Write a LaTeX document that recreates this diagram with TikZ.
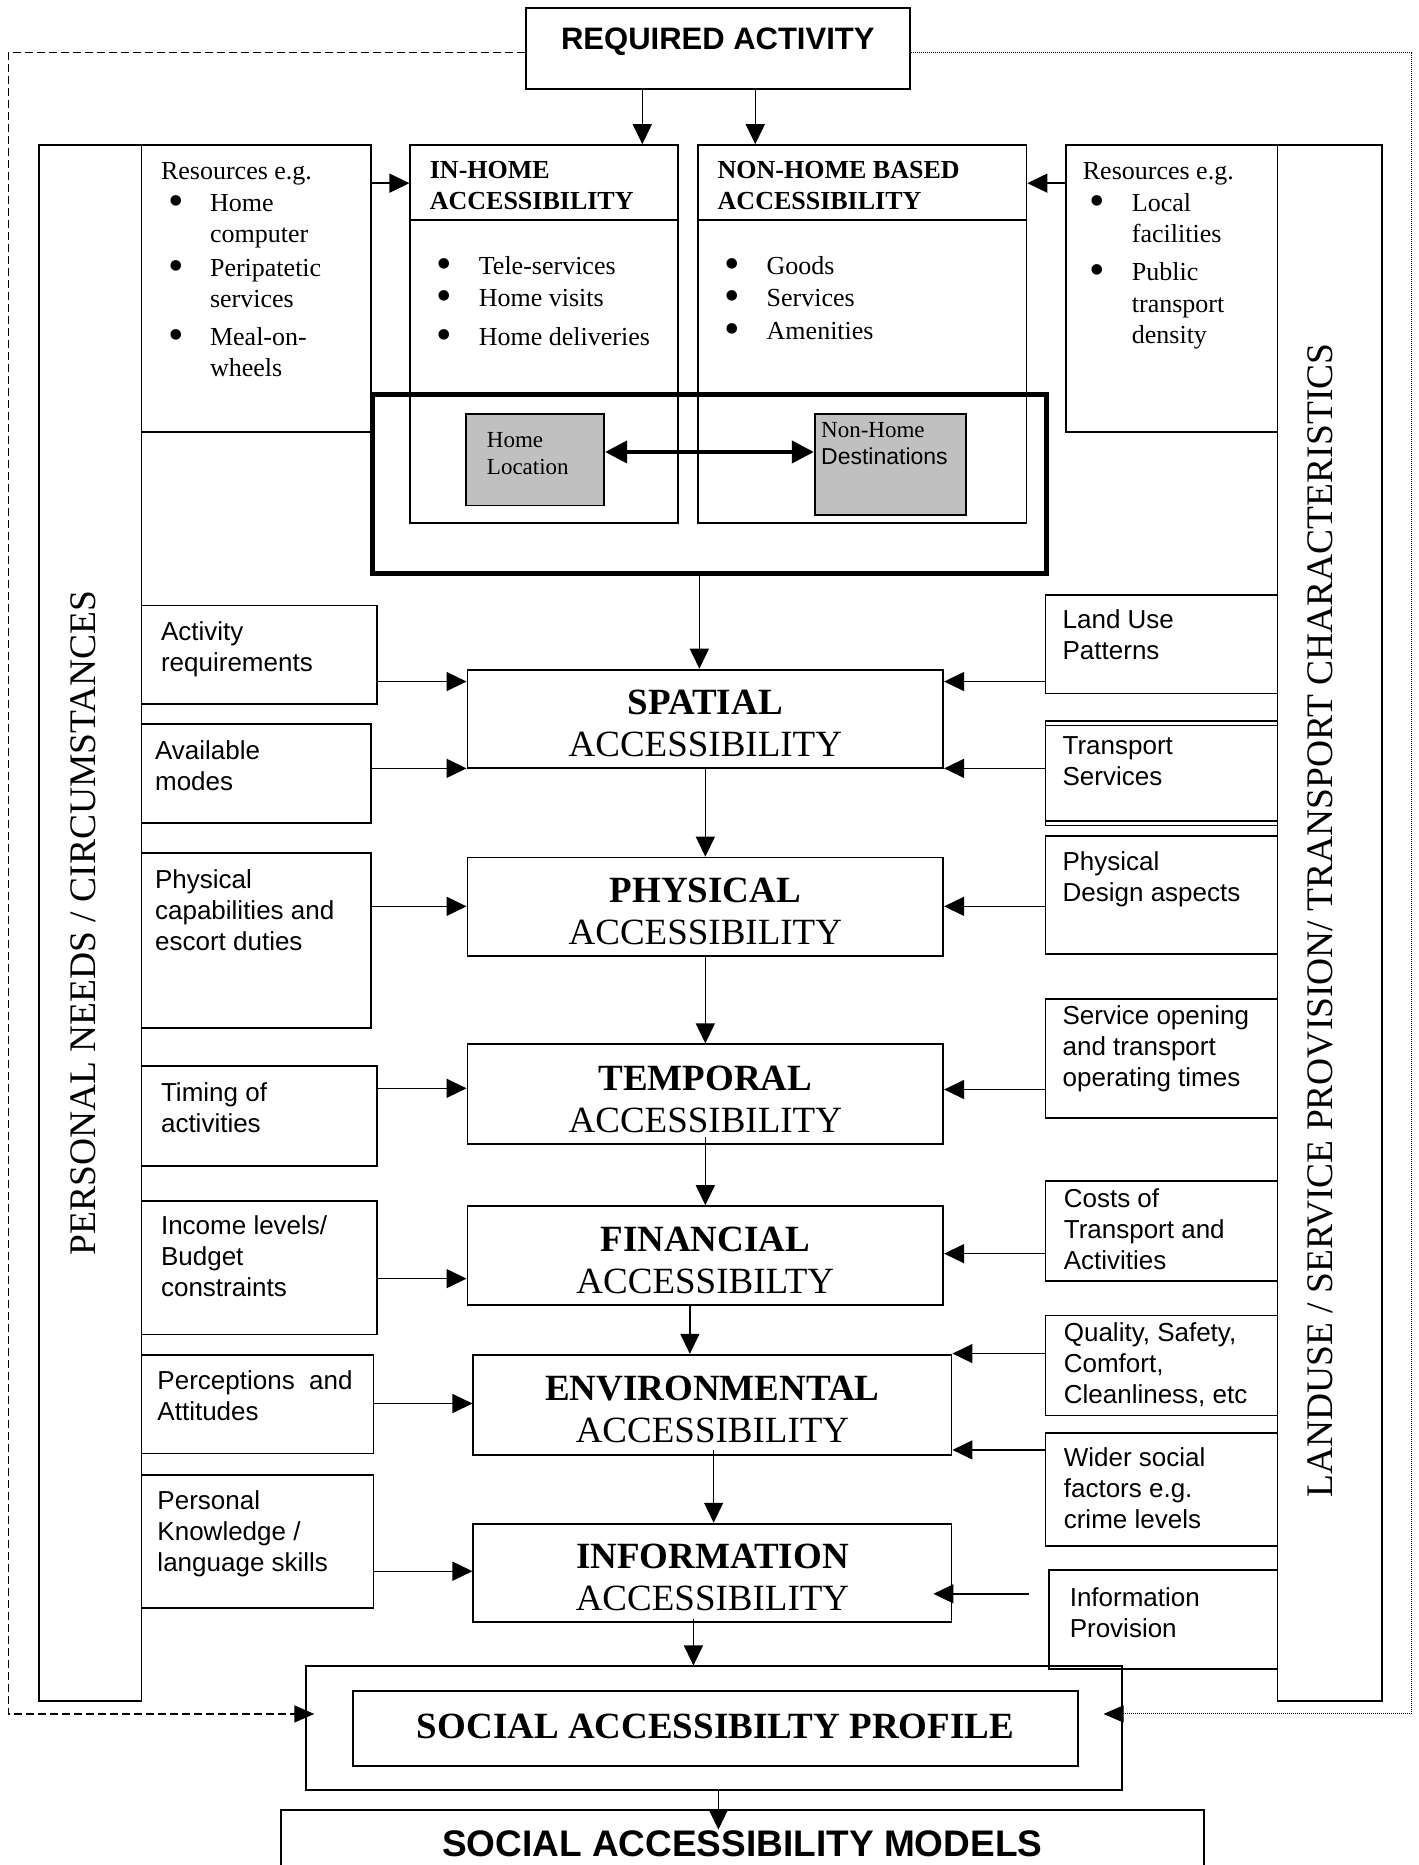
\documentclass[tikz,border=0pt]{standalone}
\usepackage{fontspec}
\setmainfont{Liberation Serif}
\setsansfont{Liberation Sans}
\usetikzlibrary{arrows.meta, fit, calc}
\definecolor{boxgray}{RGB}{192,192,192}
\newcommand{\blt}{\raisebox{-4pt}{\scalebox{1.7}{\textbullet}}}
\newcommand{\itm}[1]{\hspace*{7pt}\makebox[42pt][l]{\blt}#1}
\newcommand{\cnt}[1]{\hspace*{49pt}#1}
\tikzset{
  box/.style={draw, line width=1.8pt, inner sep=0pt},
  acct/.style={align=center, inner sep=0pt, font=\fontsize{37}{42}\selectfont},
  ftxt/.style={anchor=north west, inner sep=0pt, align=left, font=\sffamily\fontsize{26}{31}\selectfont},
  rtxt/.style={anchor=north west, inner sep=0pt, align=left, font=\fontsize{26}{31}\selectfont},
  arr/.style={line width=1.4pt, -{Triangle[length=20pt,width=19pt]}},
  side/.style={rotate=90, font=\fontsize{37.5}{42}\selectfont}
}
\begin{document}
\begin{tikzpicture}[x=1.1894pt, y=-1.1894pt]
\useasboundingbox (0,0) rectangle (1193,1568);

% required activity
\node[box, fit={(442,7) (765,75)}] (req) {};
\node[font=\sffamily\bfseries\fontsize{31}{37}\selectfont] (reqt) at (603.5,35) {REQUIRED ACTIVITY};

% side columns
\node[box, fit={(33,122) (119,1430)}] (needs) {};
\node[side] (needst) at (70,776) {PERSONAL NEEDS / CIRCUMSTANCES};
\node[box, fit={(1074,122) (1162,1430)}] (land) {};
\node[side] (landt) at (1110,774) {LANDUSE / SERVICE PROVISION/ TRANSPORT CHARACTERISTICS};

% resources
\node[box, fit={(119,122) (312,363)}] (resl) {};
\node[rtxt] (reslt) at ([shift={(17,15)}]resl.north west)
  {Resources e.g.\\[1pt] \itm{Home}\\ \cnt{computer}\\[3pt] \itm{Peripatetic}\\ \cnt{services}\\[7pt] \itm{Meal-on-}\\ \cnt{wheels}};
\node[box, fit={(896,122) (1074,363)}] (resr) {};
\node[rtxt] (resrt) at ([shift={(15,15)}]resr.north west)
  {Resources e.g.\\[1pt] \itm{Local}\\ \cnt{facilities}\\[7pt] \itm{Public}\\[1pt] \cnt{transport}\\ \cnt{density}};

% in-home / non-home
\node[box, fit={(345,122) (570,440)}] (inh) {};
\node[box, fit={(345,122) (570,185)}] (inhh) {};
\node[rtxt, font=\bfseries\fontsize{26}{31}\selectfont] (inht) at ([shift={(17,14)}]inh.north west) {IN-HOME\\ACCESSIBILITY};
\node[rtxt] (inhl) at ([shift={(17,94)}]inh.north west) {\itm{Tele-services}\\[1pt] \itm{Home visits}\\[8pt] \itm{Home deliveries}};
\node[box, fit={(587,122) (863,440)}] (nonh) {};
\node[box, fit={(587,122) (863,185)}] (nonhh) {};
\node[rtxt, font=\bfseries\fontsize{26}{31}\selectfont] (nonht) at ([shift={(17,14)}]nonh.north west) {NON-HOME BASED\\ACCESSIBILITY};
\node[rtxt] (nonhl) at ([shift={(17,94)}]nonh.north west) {\itm{Goods}\\[1pt] \itm{Services}\\[2pt] \itm{Amenities}};

% location
\node[draw, line width=5pt, inner sep=0pt, fit={(313,332) (880,482)}] (loc) {};
\node[box, fill=boxgray, fit={(392,348) (508,425)}] (home) {};
\node[anchor=north west, inner sep=0pt, align=left, font=\fontsize{23}{27}\selectfont] (homet) at ([shift={(18,16)}]home.north west) {Home\\Location};
\node[box, fill=boxgray, fit={(685,348) (812,433)}] (dest) {};
\node[anchor=north west, inner sep=0pt, align=left, font=\fontsize{23}{27}\selectfont] (destt) at ([shift={(6,8)}]dest.north west) {Non-Home\\{\sffamily Destinations}};
\draw[line width=4pt, {Triangle[length=22pt,width=22pt]}-{Triangle[length=22pt,width=22pt]}] (home.east |- 0,380) -- (dest.west |- 0,380);

% accessibility chain
\node[box, fit={(393,563) (793,646)}] (spatial) {};
\node[acct] (spatialt) at ($(spatial.center)+(0,4)$) {\textbf{SPATIAL}\\ACCESSIBILITY};
\node[box, fit={(393,721) (793,804)}] (physical) {};
\node[acct] (physicalt) at ($(physical.center)+(0,4)$) {\textbf{PHYSICAL}\\ACCESSIBILITY};
\node[box, fit={(393,878) (793,962)}] (temporal) {};
\node[acct] (temporalt) at ($(temporal.center)+(0,4)$) {\textbf{TEMPORAL}\\ACCESSIBILITY};
\node[box, fit={(393,1014) (793,1097)}] (financial) {};
\node[acct] (financialt) at ($(financial.center)+(0,4)$) {\textbf{FINANCIAL}\\ACCESSIBILTY};
\node[box, fit={(398,1139) (800,1223)}] (environ) {};
\node[acct] (environt) at ($(environ.center)+(0,4)$) {\textbf{ENVIRONMENTAL}\\ACCESSIBILITY};
\node[box, fit={(398,1281) (800,1364)}] (info) {};
\node[acct] (infot) at ($(info.center)+(0,4)$) {\textbf{INFORMATION}\\ACCESSIBILITY};

% profile and models
\node[box, fit={(257,1401) (943,1505)}] (profile) {};
\node[box, fit={(297,1422) (906,1485)}] (profin) {};
\node[acct, font=\bfseries\fontsize{37}{42}\selectfont] (profint) at ($(profin.center)+(0,-2)$) {SOCIAL ACCESSIBILTY PROFILE};
\node[box, fit={(236,1522) (1012,1590)}] (models) {};
\node[font=\sffamily\bfseries\fontsize{37}{44}\selectfont] (modelst) at (624,1550) {SOCIAL ACCESSIBILITY MODELS};

% personal factors
\node[box, fit={(119,509) (317,592)}] (actreq) {};
\node[ftxt] (actreqt) at ([shift={(17,14)}]actreq.north west) {Activity\\requirements};
\node[box, fit={(119,609) (312,692)}] (avail) {};
\node[ftxt] (availt) at ([shift={(12,14)}]avail.north west) {Available\\modes};
\node[box, fit={(119,717) (312,864)}] (physcap) {};
\node[ftxt] (physcapt) at ([shift={(12,15)}]physcap.north west) {Physical\\capabilities and\\escort duties};
\node[box, fit={(119,896) (317,980)}] (timing) {};
\node[ftxt] (timingt) at ([shift={(17,15)}]timing.north west) {Timing of\\activities};
\node[box, fit={(119,1010) (317,1122)}] (income) {};
\node[ftxt] (incomet) at ([shift={(17,13)}]income.north west) {Income levels/\\Budget\\constraints};
\node[box, fit={(119,1139) (314,1222)}] (percep) {};
\node[ftxt] (percept) at ([shift={(14,14)}]percep.north west) {Perceptions\ \ and\\Attitudes};
\node[box, fit={(119,1240) (314,1352)}] (knowl) {};
\node[ftxt] (knowlt) at ([shift={(14,14)}]knowl.north west) {Personal\\Knowledge /\\language skills};

% provision factors
\node[box, fit={(879,500) (1074,583)}] (landuse) {};
\node[ftxt] (landuset) at ([shift={(15,13)}]landuse.north west) {Land Use\\Patterns};
\node[box, fit={(879,606) (1074,690)}] (transp) {};
\node[box, fit={(879,610) (1074,694)}] (transpb) {};
\node[ftxt] (transpt) at ([shift={(15,14)}]transp.north west) {Transport\\Services};
\node[box, fit={(879,703) (1074,802)}] (physdes) {};
\node[ftxt] (physdest) at ([shift={(15,14)}]physdes.north west) {Physical\\Design aspects};
\node[box, fit={(879,840) (1074,940)}] (servop) {};
\node[ftxt] (servopt) at ([shift={(15,6)}]servop.north west) {Service opening\\and transport\\operating times};
\node[box, fit={(879,993) (1074,1077)}] (costs) {};
\node[ftxt] (costst) at ([shift={(16,7)}]costs.north west) {Costs of\\Transport and\\Activities};
\node[box, fit={(879,1106) (1074,1190)}] (quality) {};
\node[ftxt] (qualityt) at ([shift={(16,7)}]quality.north west) {Quality, Safety,\\Comfort,\\Cleanliness, etc};
\node[box, fit={(879,1205) (1074,1300)}] (wider) {};
\node[ftxt] (widert) at ([shift={(16,13)}]wider.north west) {Wider social\\factors e.g.\\crime levels};
\node[box, fit={(882,1320) (1074,1403)}] (infop) {};
\node[ftxt] (infopt) at ([shift={(18,15)}]infop.north west) {Information\\Provision};

% arrows from the top
\draw[arr] (req.south -| 540,0) -- (inh.north -| 540,0);
\draw[arr] (req.south -| 635,0) -- (nonh.north -| 635,0);
\draw[arr] (resl.east |- 0,154) -- (inh.west |- 0,154);
\draw[arr] (resr.west |- 0,154) -- (nonh.east |- 0,154);
\draw[arr] (loc.south -| 588,0) -- (spatial.north -| 588,0);

% chain
\draw[arr] (spatial.south -| 593,0) -- (physical.north -| 593,0);
\draw[arr] (physical.south -| 593,0) -- (temporal.north -| 593,0);
\draw[arr] ($(temporal.south -| 593,0)+(0,-7)$) -- (financial.north -| 593,0);
\draw[arr] (financial.south -| 580,0) -- (environ.north -| 580,0);
\draw[arr] ($(environ.south -| 600,0)+(0,-5)$) -- (info.north -| 600,0);
\draw[arr] ($(info.south -| 583,0)+(0,-4)$) -- (profile.north -| 583,0);
\draw[arr] ($(profile.south -| 604,0)+(0,-2)$) -- ($(models.north -| 604,0)+(0,17)$);

% left inputs
\draw[arr] (actreq.east |- 0,573) -- (spatial.west |- 0,573);
\draw[arr] (avail.east |- 0,646) -- (spatial.west |- 0,646);
\draw[arr] (physcap.east |- 0,762) -- (physical.west |- 0,762);
\draw[arr] (timing.east |- 0,915) -- (temporal.west |- 0,915);
\draw[arr] (income.east |- 0,1075) -- (financial.west |- 0,1075);
\draw[arr] (percep.east |- 0,1180) -- (environ.west |- 0,1180);
\draw[arr] (knowl.east |- 0,1321) -- (info.west |- 0,1321);

% right inputs
\draw[arr] (landuse.west |- 0,573) -- (spatial.east |- 0,573);
\draw[arr] (transp.west |- 0,646) -- (spatial.east |- 0,646);
\draw[arr] (physdes.west |- 0,762) -- (physical.east |- 0,762);
\draw[arr] (servop.west |- 0,916) -- (temporal.east |- 0,916);
\draw[arr] (costs.west |- 0,1054) -- (financial.east |- 0,1054);
\draw[arr] (quality.west |- 0,1138) -- (environ.east |- 0,1138);
\draw[arr] (wider.west |- 0,1219) -- (environ.east |- 0,1219);
\draw[arr] ($(infop.west |- 0,1340)+(-16,0)$) -- ($(info.east |- 0,1340)+(-16,0)$);

% feedback lines
\draw[line width=1.5pt, dash pattern=on 8pt off 4pt, -{Triangle[length=20pt,width=17pt]}]
  (req.west |- 0,44) -| (7,1441) -- ($(profile.west |- 0,1441)+(8,0)$);
\draw[line width=1pt, densely dotted, -{Triangle[length=20pt,width=17pt]}]
  (req.east |- 0,44) -| (1187,1441) -- ($(profile.east |- 0,1441)+(-16,0)$);
\end{tikzpicture}
\end{document}
